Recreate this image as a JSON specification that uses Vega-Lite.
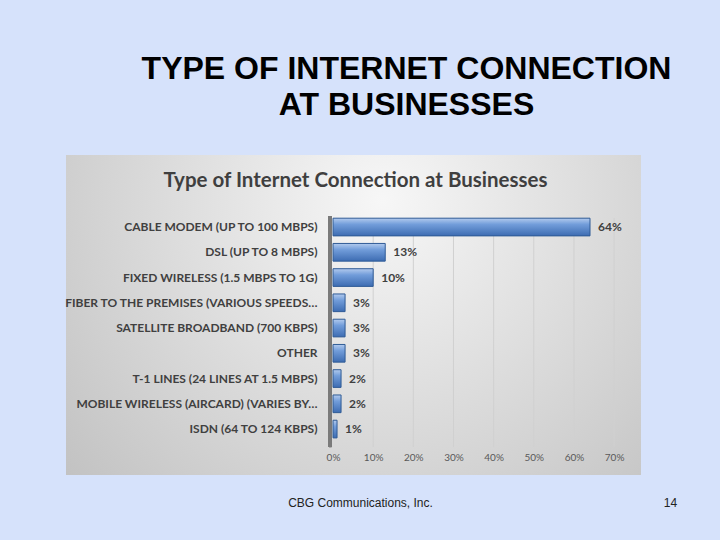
{
  "$schema": "https://vega.github.io/schema/vega-lite/v6.json",
  "width": 575,
  "height": 320,
  "autosize": {"type": "none"},
  "padding": {"left": 66, "top": 155, "right": 79, "bottom": 65},
  "background": "#d6e2fb",
  "view": {
    "stroke": null,
    "fill": {
      "gradient": "radial",
      "x1": 0.55, "y1": 0.3, "r1": 0,
      "x2": 0.55, "y2": 0.3, "r2": 0.8,
      "stops": [
        {"offset": 0, "color": "#f7f7f7"},
        {"offset": 1, "color": "#bdbdbd"}
      ]
    }
  },
  "title": {
    "text": ["TYPE OF INTERNET CONNECTION", "AT BUSINESSES"],
    "font": "Liberation Sans",
    "fontSize": 32,
    "fontWeight": "bold",
    "color": "#000000",
    "lineHeight": 36,
    "anchor": "middle",
    "frame": "group",
    "dx": 53,
    "offset": 33
  },
  "data": {
    "values": [
      {"type": "CABLE MODEM (UP TO 100 MBPS)", "pct": 0.64},
      {"type": "DSL (UP TO 8 MBPS)", "pct": 0.13},
      {"type": "FIXED WIRELESS (1.5 MBPS TO 1G)", "pct": 0.10},
      {"type": "FIBER TO THE PREMISES (VARIOUS SPEEDS…", "pct": 0.03},
      {"type": "SATELLITE BROADBAND  (700 KBPS)", "pct": 0.03},
      {"type": "OTHER", "pct": 0.03},
      {"type": "T-1 LINES (24 LINES AT 1.5 MBPS)", "pct": 0.02},
      {"type": "MOBILE WIRELESS (AIRCARD) (VARIES BY…", "pct": 0.02},
      {"type": "ISDN (64 TO 124 KBPS)", "pct": 0.01}
    ]
  },
  "layer": [
    {
      "data": {"values": [{"tick": 0.1}, {"tick": 0.2}, {"tick": 0.3}, {"tick": 0.4}, {"tick": 0.5}, {"tick": 0.6}, {"tick": 0.7}]},
      "mark": {"type": "rule", "color": "#d0d0d0", "strokeWidth": 1, "yOffset": -9, "y2Offset": 18},
      "encoding": {
        "x": {
          "field": "tick", "type": "quantitative",
          "scale": {"domain": [-0.665, 0.767], "nice": false, "zero": false},
          "axis": {
            "orient": "bottom", "offset": -25, "labels": false, "ticks": false, "domain": false, "grid": false,
            "title": "14", "titleX": 604, "titleY": 52, "titleAlign": "center", "titleBaseline": "middle",
            "titleFont": "Liberation Sans", "titleFontSize": 12, "titleFontWeight": "normal", "titleColor": "#222222"
          }
        },
        "y": {"datum": "CABLE MODEM (UP TO 100 MBPS)", "type": "nominal"},
        "y2": {"datum": "ISDN (64 TO 124 KBPS)"}
      }
    },
    {
      "mark": {"type": "rule", "color": "#7a7a7a", "strokeWidth": 3, "xOffset": -3, "yOffset": -11, "y2Offset": 18},
      "encoding": {
        "x": {"datum": 0, "type": "quantitative", "axis": null},
        "y": {"datum": "CABLE MODEM (UP TO 100 MBPS)", "type": "nominal"},
        "y2": {"datum": "ISDN (64 TO 124 KBPS)"}
      }
    },
    {
      "mark": {
        "type": "bar",
        "color": {
          "gradient": "linear", "x1": 0, "y1": 0, "x2": 0, "y2": 1,
          "stops": [
            {"offset": 0, "color": "#b3cbee"},
            {"offset": 0.35, "color": "#729dda"},
            {"offset": 1, "color": "#3d6cb2"}
          ]
        },
        "stroke": "#2f5b96",
        "strokeWidth": 1
      },
      "encoding": {
        "y": {
          "field": "type", "type": "nominal",
          "scale": {
            "domain": [
              "CABLE MODEM (UP TO 100 MBPS)", "DSL (UP TO 8 MBPS)", "FIXED WIRELESS (1.5 MBPS TO 1G)",
              "FIBER TO THE PREMISES (VARIOUS SPEEDS…", "SATELLITE BROADBAND  (700 KBPS)", "OTHER",
              "T-1 LINES (24 LINES AT 1.5 MBPS)", "MOBILE WIRELESS (AIRCARD) (VARIES BY…", "ISDN (64 TO 124 KBPS)"
            ],
            "range": [63.2, 282.9],
            "paddingInner": 0.3, "paddingOuter": 0
          },
          "axis": {
            "orient": "left", "offset": -260, "labelPadding": 9, "domain": false, "ticks": false, "grid": false,
            "labelFont": "Lato", "labelFontWeight": "bold", "labelFontSize": 12, "labelColor": "#404040", "labelLimit": 300,
            "title": "Type of Internet Connection at Businesses",
            "titleAngle": 0, "titleX": 29, "titleY": 25, "titleAlign": "center", "titleBaseline": "middle",
            "titleFont": "Lato", "titleFontSize": 20.5, "titleFontWeight": "bold", "titleColor": "#3f3f3f"
          }
        },
        "x": {
          "field": "pct", "type": "quantitative",
          "scale": {"domain": [-0.665, 0.767], "nice": false, "zero": false},
          "axis": {
            "orient": "bottom", "offset": -25, "values": [0, 0.1, 0.2, 0.3, 0.4, 0.5, 0.6, 0.7], "format": ".0%",
            "domain": false, "ticks": false, "grid": false, "labelPadding": 2,
            "labelFont": "Lato", "labelFontSize": 10, "labelColor": "#595959",
            "title": "CBG Communications, Inc.", "titleX": 294, "titleY": 52, "titleAlign": "center", "titleBaseline": "middle",
            "titleFont": "Liberation Sans", "titleFontSize": 12, "titleFontWeight": "normal", "titleColor": "#222222"
          }
        },
        "x2": {"datum": 0}
      }
    },
    {
      "mark": {"type": "text", "align": "left", "baseline": "middle", "dx": 8, "font": "Lato", "fontWeight": "bold", "fontSize": 12, "color": "#404040"},
      "encoding": {
        "y": {"field": "type", "type": "nominal"},
        "x": {"field": "pct", "type": "quantitative", "axis": null},
        "text": {"field": "pct", "type": "quantitative", "format": ".0%"}
      }
    }
  ],
  "resolve": {"axis": {"x": "independent"}}
}
